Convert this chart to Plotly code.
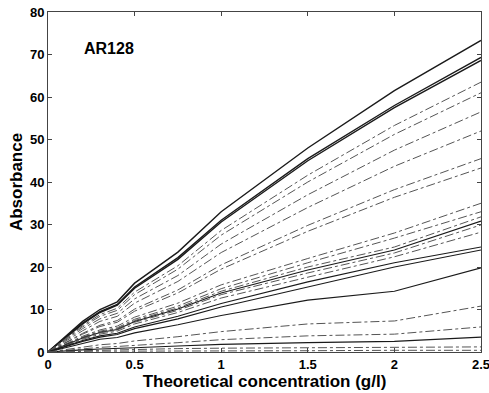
import plotly.graph_objects as go

conc = [0, 0.1, 0.2, 0.3, 0.4, 0.5, 0.75, 1, 1.5, 2, 2.5]

s01 = [0, 3.5, 7.2, 10.0, 11.8, 16.2, 23.5, 33.0, 48.0, 61.5, 73.3]
s02 = [0, 3.3, 6.8, 9.5, 11.2, 15.3, 22.2, 31.0, 45.5, 58.0, 69.3]
s03 = [0, 3.2, 6.6, 9.3, 11.0, 15.0, 21.8, 30.6, 45.0, 57.5, 68.6]
s04 = [0, 3.0, 6.2, 8.8, 10.3, 14.1, 20.3, 28.6, 41.6, 53.3, 63.5]
s05 = [0, 2.9, 5.9, 8.4, 9.8, 13.5, 19.5, 27.5, 40.0, 51.2, 61.0]
s06 = [0, 2.7, 5.5, 7.8, 9.1, 12.5, 18.0, 25.4, 37.0, 47.5, 56.5]
s07 = [0, 2.5, 5.0, 7.2, 8.4, 11.5, 16.6, 23.4, 34.0, 43.7, 52.0]
s08 = [0, 2.2, 4.4, 6.3, 7.4, 10.1, 14.6, 20.5, 29.8, 38.2, 45.5]
s09 = [0, 2.1, 4.2, 6.0, 7.0, 9.6, 13.9, 19.5, 28.4, 36.4, 43.3]
s10 = [0, 1.8, 3.7, 5.2, 6.1, 8.2, 11.5, 15.8, 22.0, 28.0, 35.0]
s11 = [0, 1.7, 3.5, 4.9, 5.7, 7.7, 10.8, 14.9, 21.0, 26.8, 33.0]
s12 = [0, 1.6, 3.4, 4.7, 5.5, 7.4, 10.4, 14.3, 20.0, 24.7, 31.8]
s13 = [0, 1.6, 3.3, 4.6, 5.3, 7.2, 10.1, 13.9, 19.3, 24.0, 30.8]
s14 = [0, 1.5, 3.2, 4.5, 5.2, 7.0, 9.8, 13.5, 18.6, 23.3, 29.9]
s15 = [0, 1.4, 3.0, 4.2, 4.9, 6.6, 9.3, 12.7, 17.6, 22.4, 28.2]
s16 = [0, 1.3, 2.7, 3.8, 4.4, 5.9, 8.4, 11.4, 16.5, 21.0, 24.7]
s17 = [0, 1.2, 2.5, 3.5, 4.1, 5.5, 7.8, 10.6, 15.3, 20.0, 24.0]
s18 = [0, 1.0, 2.1, 3.0, 3.4, 4.5, 6.4, 8.6, 12.2, 14.3, 19.8]
s19 = [0, 0.6, 1.2, 1.7, 2.0, 2.6, 3.6, 4.8, 6.6, 7.3, 10.8]
s20 = [0, 0.4, 0.8, 1.1, 1.3, 1.6, 2.2, 2.9, 3.8, 4.2, 5.9]
s21 = [0, 0.3, 0.5, 0.7, 0.8, 1.0, 1.4, 1.8, 2.2, 2.5, 3.5]
s22 = [0, 0.2, 0.3, 0.4, 0.5, 0.6, 0.8, 0.9, 1.0, 1.1, 1.2]
s23 = [0, 0.1, 0.1, 0.2, 0.2, 0.2, 0.3, 0.3, 0.3, 0.4, 0.4]

series = [s01, s02, s03, s04, s05, s06, s07, s08, s09, s10, s11, s12,
          s13, s14, s15, s16, s17, s18, s19, s20, s21, s22, s23]
solid = {0, 1, 2, 12, 15, 16, 17, 20}

fig = go.Figure()
for i, s in enumerate(series):
    if i in solid:
        line = dict(color="#1a1a1a", width=1.4 if i < 3 else 1.1, dash="solid")
    else:
        line = dict(color="#555555", width=1.0, dash="dashdot")
    fig.add_trace(go.Scatter(x=conc, y=s, mode="lines", line=line,
                             showlegend=False, hoverinfo="skip"))

fig.add_annotation(x=0.35, y=71.5, text="<b>AR128</b>", showarrow=False,
                   font=dict(family="Liberation Sans, Arial", size=16, color="black"))

axis_common = dict(showgrid=False, zeroline=False, showline=True, linecolor="#444",
                   linewidth=1, mirror="ticks", ticks="inside", ticklen=4,
                   tickcolor="#444", automargin=False, ticklabeloverflow="allow",
                   tickfont=dict(family="Liberation Sans, Arial", size=13, color="black", weight="bold"))

fig.update_layout(
    width=489, height=393,
    margin=dict(l=48, r=8, t=12, b=41),
    paper_bgcolor="white", plot_bgcolor="white",
    xaxis=dict(range=[0, 2.5], dtick=0.5, tick0=0,
               title=dict(text="<b>Theoretical concentration (g/l)</b>", standoff=4,
                          font=dict(family="Liberation Sans, Arial", size=17, color="black")),
               **axis_common),
    yaxis=dict(range=[0, 80], dtick=10, tick0=0,
               title=dict(text="<b>Absorbance</b>", standoff=2,
                          font=dict(family="Liberation Sans, Arial", size=17, color="black")),
               **axis_common),
)

fig.write_html("out.html")
